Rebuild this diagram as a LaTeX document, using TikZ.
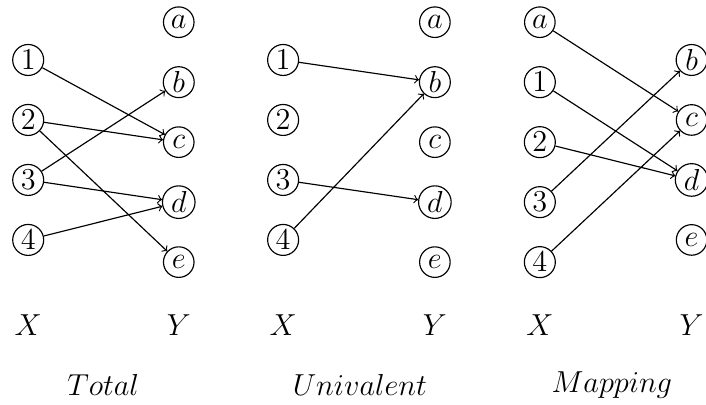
\documentclass[tikz,border=0pt]{standalone}
\usetikzlibrary{positioning}

\begin{document}
\begin{tikzpicture}[
    font=\Large,
    line width=0.55pt,
    elem/.style={circle, draw, inner sep=1.1pt, minimum size=14.5pt},
    setlabel/.style={inner sep=0pt},
    arrow/.style={->}
]
\useasboundingbox (0,0) rectangle (11.77,6.75);

% Total
\node (ta) [elem] at (2.98,6.38) {$a$};
\node (tb) [elem] at (2.98,5.38) {$b$};
\node (tc) [elem] at (2.98,4.38) {$c$};
\node (td) [elem] at (2.98,3.38) {$d$};
\node (te) [elem] at (2.98,2.38) {$e$};
\node (t1) [elem] at (0.47,5.75) {$1$};
\node (t2) [elem] at (0.47,4.75) {$2$};
\node (t3) [elem] at (0.47,3.75) {$3$};
\node (t4) [elem] at (0.47,2.75) {$4$};
\node (tx) [setlabel] at (0.47,1.33) {$X$};
\node (ty) [setlabel] at (2.98,1.33) {$Y$};
\node (ttitle) [setlabel] at (1.72,0.33) {$Total$};

\draw [arrow] (t1) -- (tc);
\draw [arrow] (t2) -- (tc);
\draw [arrow] (t2) -- (te);
\draw [arrow] (t3) -- (tb);
\draw [arrow] (t3) -- (td);
\draw [arrow] (t4) -- (td);

% Univalent
\node (ua) [elem] at (7.25,6.38) {$a$};
\node (ub) [elem] at (7.25,5.38) {$b$};
\node (uc) [elem] at (7.25,4.38) {$c$};
\node (ud) [elem] at (7.25,3.38) {$d$};
\node (ue) [elem] at (7.25,2.38) {$e$};
\node (u1) [elem] at (4.72,5.75) {$1$};
\node (u2) [elem] at (4.72,4.75) {$2$};
\node (u3) [elem] at (4.72,3.75) {$3$};
\node (u4) [elem] at (4.72,2.75) {$4$};
\node (ux) [setlabel] at (4.72,1.33) {$X$};
\node (uy) [setlabel] at (7.25,1.33) {$Y$};
\node (utitle) [setlabel] at (6.0,0.33) {$Univalent$};

\draw [arrow] (u1) -- (ub);
\draw [arrow] (u3) -- (ud);
\draw [arrow] (u4) -- (ub);

% Mapping
\node (ma) [elem] at (9.0,6.38) {$a$};
\node (m1) [elem] at (9.0,5.38) {$1$};
\node (m2) [elem] at (9.0,4.38) {$2$};
\node (m3) [elem] at (9.0,3.38) {$3$};
\node (m4) [elem] at (9.0,2.38) {$4$};
\node (mb) [elem] at (11.53,5.75) {$b$};
\node (mc) [elem] at (11.53,4.75) {$c$};
\node (md) [elem] at (11.53,3.75) {$d$};
\node (me) [elem] at (11.53,2.75) {$e$};
\node (mx) [setlabel] at (9.0,1.33) {$X$};
\node (my) [setlabel] at (11.53,1.33) {$Y$};
\node (mtitle) [setlabel] at (10.2,0.33) {$Mapping$};

\draw [arrow] (ma) -- (mc);
\draw [arrow] (m1) -- (md);
\draw [arrow] (m2) -- (md);
\draw [arrow] (m3) -- (mb);
\draw [arrow] (m4) -- (mc);

\end{tikzpicture}
\end{document}
